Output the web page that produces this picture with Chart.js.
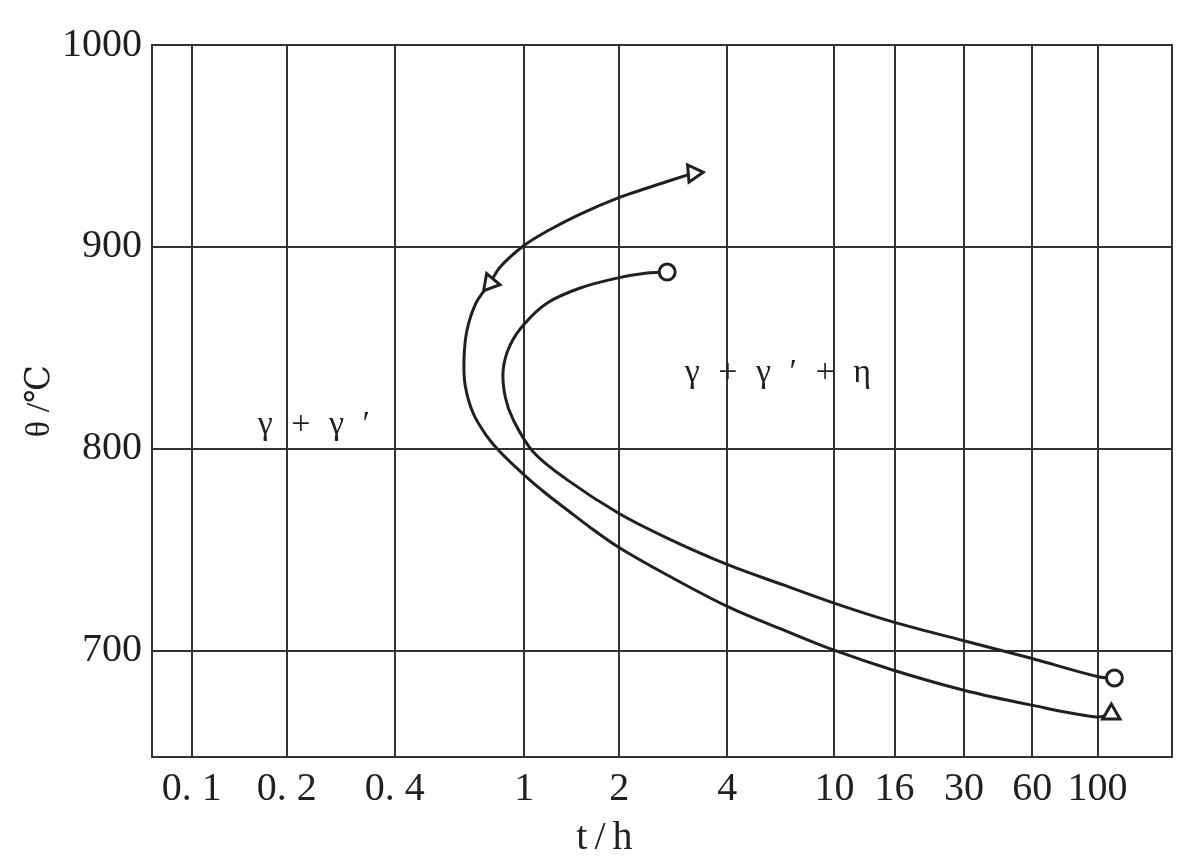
<!DOCTYPE html>
<html>
<head>
<meta charset="utf-8">
<script src="https://cdn.jsdelivr.net/npm/chart.js@4.4.1/dist/chart.umd.min.js"></script>
<style>
    html, body { margin: 0; padding: 0; background: #fff; }
    #wrap { width: 1200px; height: 866px; }
</style>
</head>
<body>
<div id="wrap"><canvas id="phaseChart" width="1200" height="866"></canvas></div>
<script>
// time axis in hours - the printed axis is hand spaced, not a true log scale
const tickHours = [0.1, 0.2, 0.4, 1, 2, 4, 10, 16, 30, 60, 100];
const tickLabels = ['0. 1', '0. 2', '0. 4', '1', '2', '4', '10', '16', '30', '60', '100'];
const tickSpots = [0.039, 0.132, 0.238, 0.365, 0.458, 0.564, 0.669, 0.728, 0.796, 0.863, 0.927];
const tempTicks = [700, 800, 900, 1000];

// curve with triangle markers (start, arrow, end)
const triHours = [3.216, 2.394, 1.986, 1.505, 1.183, 0.993, 0.843, 0.785, 0.711, 0.667, 0.653, 0.658,
    0.696, 0.763, 0.843, 1.0, 1.166, 1.369, 1.643, 1.986, 2.721, 4.035, 6.463, 9.91, 15.76, 29.74,
    58.8, 99.2, 111.4];
const triTemps = [936.6, 929.2, 924.3, 916.3, 907.9, 900.5, 890.1, 882.2, 872.3, 858.9, 845.0, 831.7,
    817.8, 806.9, 798.5, 787.1, 778.2, 769.8, 760.4, 751.5, 737.6, 721.8, 710.4, 700.5, 690.6, 680.7,
    673.3, 667.3, 668.8];

// curve with circle markers
const circHours = [2.721, 2.394, 1.986, 1.505, 1.183, 1.0, 0.905, 0.861, 0.874, 0.925, 1.068,
    1.369, 1.986, 2.721, 4.035, 6.463, 9.91, 15.76, 29.74, 58.8, 101.6, 114.1];
const circTemps = [887.6, 887.1, 884.7, 879.7, 872.3, 861.9, 851.5, 839.1, 825.7, 814.4, 798.5,
    784.7, 768.3, 755.9, 742.6, 732.7, 723.8, 714.4, 705.2, 696.5, 687.1, 686.6];

const regionNames = ['γ + γ ′', 'γ + γ ′ + η'];
const regionHours = [0.242, 6.3];
const regionTemps = [812, 837.6];

const ink = '#231f20';
const gridInk = '#333333';
const serif = '"Liberation Serif", "DejaVu Serif", serif';

function hoursToDecimal(t) {
    const lt = Math.log10(t);
    const logs = tickHours.map(Math.log10);
    let i = 0;
    while (i < logs.length - 2 && lt > logs[i + 1]) i++;
    const f = (lt - logs[i]) / (logs[i + 1] - logs[i]);
    return tickSpots[i] + f * (tickSpots[i + 1] - tickSpots[i]);
}

function decimalToHours(d) {
    const logs = tickHours.map(Math.log10);
    let i = 0;
    while (i < tickSpots.length - 2 && d > tickSpots[i + 1]) i++;
    const f = (d - tickSpots[i]) / (tickSpots[i + 1] - tickSpots[i]);
    return Math.pow(10, logs[i] + f * (logs[i + 1] - logs[i]));
}

class StretchedTimeScale extends Chart.LinearScale {
    determineDataLimits() {
        this.min = decimalToHours(0);
        this.max = decimalToHours(1);
    }
    buildTicks() {
        return tickHours.map(v => ({ value: v }));
    }
    getPixelForValue(value) {
        return this.getPixelForDecimal(hoursToDecimal(value));
    }
    getValueForPixel(pixel) {
        return decimalToHours(this.getDecimalForPixel(pixel));
    }
}
StretchedTimeScale.id = 'stretchedTime';
StretchedTimeScale.defaults = {};
Chart.register(StretchedTimeScale);

const frameAndText = {
    id: 'frameAndText',
    beforeDatasetsDraw(chart) {
        const { ctx, chartArea: a, scales: { x, y } } = chart;
        ctx.save();
        ctx.strokeStyle = gridInk;
        ctx.lineWidth = 2;
        ctx.strokeRect(a.left, a.top, a.right - a.left, a.bottom - a.top);

        ctx.fillStyle = ink;
        ctx.textAlign = 'center';
        ctx.textBaseline = 'middle';
        ctx.font = '34px ' + serif;
        ctx.letterSpacing = '5px';
        regionNames.forEach((name, i) => {
            ctx.fillText(name, x.getPixelForValue(regionHours[i]), y.getPixelForValue(regionTemps[i]));
        });
        ctx.font = '40px ' + serif;
        ctx.letterSpacing = '7px';
        ctx.fillText('t/h', a.left + (a.right - a.left) * 0.447, 838);
        ctx.restore();
    }
};

const triMarks = { 0: 85, 7: 220 };
triMarks[triHours.length - 1] = 0;
const circMarks = [0, circHours.length - 1];

new Chart(document.getElementById('phaseChart').getContext('2d'), {
    type: 'line',
    data: {
        datasets: [{
            data: triHours.map((t, i) => ({ x: t, y: triTemps[i] })),
            borderColor: ink,
            borderWidth: 3,
            tension: 0.35,
            fill: false,
            pointStyle: 'triangle',
            pointRadius: ctx => (ctx.dataIndex in triMarks ? 10 : 0),
            pointRotation: ctx => triMarks[ctx.dataIndex] || 0,
            pointBackgroundColor: '#fff',
            pointBorderColor: ink,
            pointBorderWidth: 3
        }, {
            data: circHours.map((t, i) => ({ x: t, y: circTemps[i] })),
            borderColor: ink,
            borderWidth: 3,
            tension: 0.35,
            fill: false,
            pointStyle: 'circle',
            pointRadius: ctx => (circMarks.includes(ctx.dataIndex) ? 8 : 0),
            pointBackgroundColor: '#fff',
            pointBorderColor: ink,
            pointBorderWidth: 3
        }]
    },
    options: {
        responsive: false,
        animation: false,
        events: [],
        layout: { padding: { top: 45, right: 28, left: 0, bottom: 0 } },
        plugins: { legend: { display: false }, tooltip: { enabled: false } },
        scales: {
            x: {
                type: 'stretchedTime',
                position: 'bottom',
                grid: { color: gridInk, lineWidth: 2, drawTicks: false },
                border: { display: true, color: gridInk, width: 2 },
                ticks: {
                    autoSkip: false,
                    maxRotation: 0,
                    padding: 8,
                    color: ink,
                    font: { family: serif, size: 40 },
                    callback: (v, i) => tickLabels[i]
                },
                afterFit: s => { s.height = 109; }
            },
            y: {
                type: 'linear',
                min: 647.5,
                max: 1000,
                afterBuildTicks: s => { s.ticks = tempTicks.map(v => ({ value: v })); },
                grid: { color: gridInk, lineWidth: 2, drawTicks: false },
                border: { display: true, color: gridInk, width: 2 },
                ticks: {
                    padding: 10,
                    color: ink,
                    font: { family: serif, size: 40 },
                    callback: v => String(v)
                },
                title: {
                    display: true,
                    text: 'θ /℃',
                    color: ink,
                    font: { family: serif, size: 34 },
                    padding: { top: 20, bottom: 0 }
                },
                afterFit: s => { s.width = 152; }
            }
        }
    },
    plugins: [frameAndText]
});
</script>
</body>
</html>
